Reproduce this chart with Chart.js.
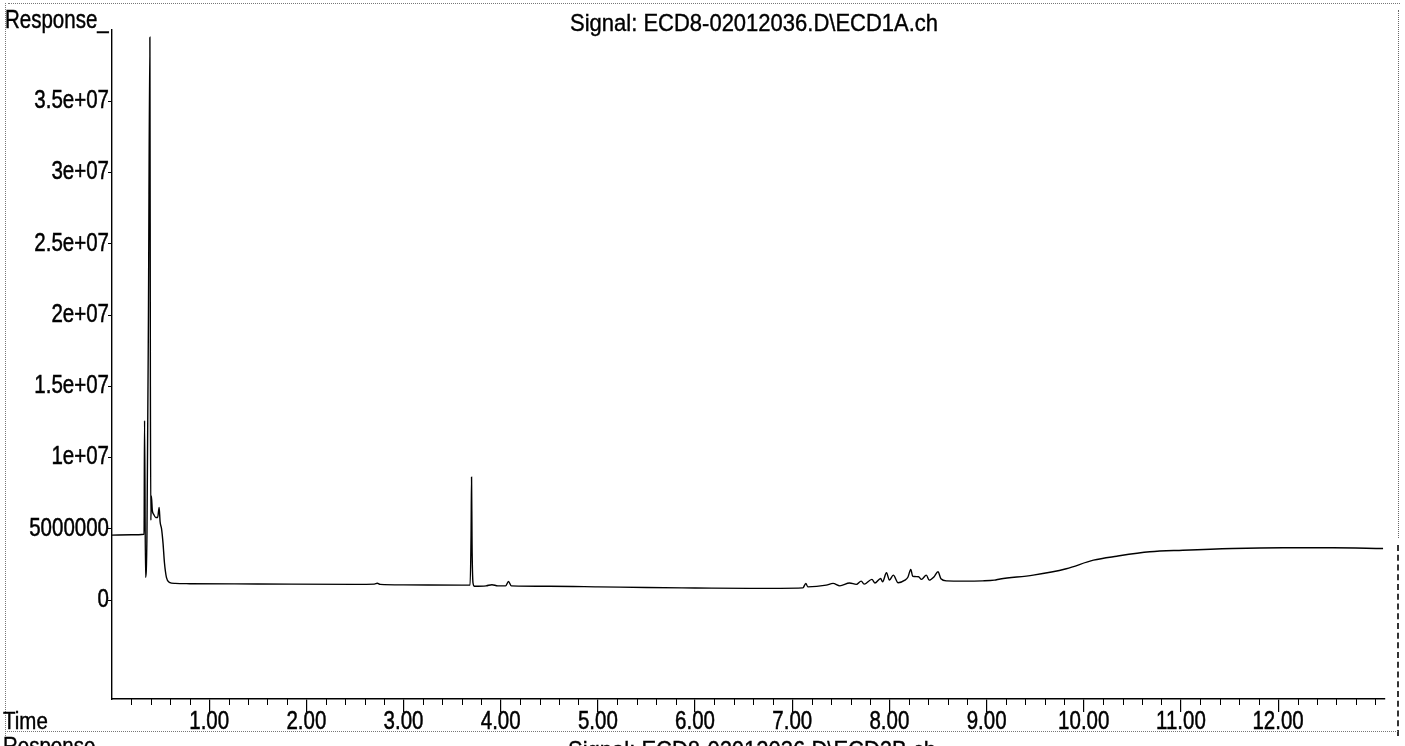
<!DOCTYPE html>
<html><head><meta charset="utf-8">
<script src="https://cdn.jsdelivr.net/npm/chart.js@4/dist/chart.umd.min.js"></script>
<style>
html,body{margin:0;padding:0;background:#fff;overflow:hidden;width:1405px;height:746px;}
#wrap{position:relative;width:1405px;height:746px;overflow:hidden;}
canvas{position:absolute;left:0;top:0;}
.t{position:absolute;font-family:"Liberation Sans",Arial,sans-serif;color:#000;white-space:nowrap;transform-origin:0 0;line-height:1;-webkit-text-stroke:0.35px #000;}
.ln{position:absolute;}
</style></head><body>
<div id="wrap">
<canvas id="c" width="1405" height="746"></canvas>
<div class="ln" style="left:8px;top:3px;width:1392px;border-top:1px dotted #777;"></div>
<div class="ln" style="left:5px;top:3px;height:743px;border-left:1px dotted #777;"></div>
<div class="ln" style="left:1398px;top:10px;height:528px;border-left:1px dotted #666;"></div>
<div class="ln" style="left:1397px;top:545px;height:191px;border-left:2px dashed #333;"></div>
<div class="ln" style="left:5px;top:731px;width:1393px;border-top:1px dotted #777;"></div>
<div class="t" style="left:5px;top:7px;font-size:20.5px;transform:scaleY(1.22)">Response_</div>
<div class="t" style="left:570px;top:11px;font-size:22px;transform:scaleY(1.12)">Signal: ECD8-02012036.D\ECD1A.ch</div>
<div class="t" style="left:3px;top:709px;font-size:20.5px;transform:scaleY(1.2)">Time</div>
<div class="t" style="left:3px;top:734px;font-size:20.5px;transform:scaleY(1.2)">Response</div>
<div class="t" style="left:568px;top:738px;font-size:22px;transform:scaleY(1.12)">Signal: ECD8-02012036.D\ECD2B.ch</div>
</div>
<script>
// Retention time (min)
const times = [0.00,0.20,0.33,0.335,0.345,0.36,0.375,0.39,0.395,0.40,0.405,0.415,0.43,0.45,0.47,0.485,0.495,0.51,0.525,0.54,0.56,0.59,0.65,0.80,1.50,2.50,2.70,2.73,2.76,3.00,3.60,3.685,3.695,3.70,3.705,3.715,3.73,3.85,3.91,3.97,4.05,4.08,4.11,4.50,5.00,5.50,6.00,6.56,7.11,7.14,7.16,7.35,7.42,7.49,7.59,7.66,7.71,7.74,7.82,7.85,7.91,7.93,7.97,8.00,8.04,8.09,8.16,8.19,8.22,8.24,8.30,8.33,8.38,8.41,8.46,8.50,8.53,8.59,8.76,8.96,9.08,9.14,9.48,9.82,10.10,10.34,10.68,11.02,11.53,12.05,12.56,13.08];
// Detector response
const responses = [4.56e6,4.58e6,4.62e6,1.26e7,1.6e6,4.8e6,2.0e7,3.95e7,1.5e7,5.6e6,7.3e6,6.3e6,6.0e6,5.8e6,5.8e6,6.5e6,5.5e6,5.0e6,4.0e6,2.6e6,1.6e6,1.25e6,1.17e6,1.15e6,1.13e6,1.10e6,1.12e6,1.18e6,1.10e6,1.07e6,1.05e6,1.05e6,4.5e6,8.63e6,4.0e6,1.2e6,0.97e6,1.0e6,1.08e6,1.0e6,1.0e6,1.3e6,1.0e6,0.97e6,0.93e6,0.88e6,0.85e6,0.82e6,0.86e6,1.17e6,0.93e6,1.05e6,1.17e6,1.0e6,1.2e6,1.1e6,1.33e6,1.12e6,1.45e6,1.2e6,1.52e6,1.28e6,1.92e6,1.4e6,1.75e6,1.22e6,1.4e6,1.6e6,2.15e6,1.67e6,1.64e6,1.45e6,1.75e6,1.4e6,1.64e6,1.99e6,1.5e6,1.35e6,1.33e6,1.35e6,1.4e6,1.48e6,1.75e6,2.2e6,2.8e6,3.08e6,3.39e6,3.5e6,3.62e6,3.67e6,3.67e6,3.62e6];
const yTickValues = [0,5e6,1e7,1.5e7,2e7,2.5e7,3e7,3.5e7];
const yTickLabels = ['0','5000000','1e+07','1.5e+07','2e+07','2.5e+07','3e+07','3.5e+07'];
const xTickValues = [1,2,3,4,5,6,7,8,9,10,11,12];
const xTickLabels = ['1.00','2.00','3.00','4.00','5.00','6.00','7.00','8.00','9.00','10.00','11.00','12.00'];
const xMinorTicks = [0.2,0.4,0.6,0.8,1.2,1.4,1.6,1.8,2.2,2.4,2.6,2.8,3.2,3.4,3.6,3.8,4.2,4.4,4.6,4.8,5.2,5.4,5.6,5.8,6.2,6.4,6.6,6.8,7.2,7.4,7.6,7.8,8.2,8.4,8.6,8.8,9.2,9.4,9.6,9.8,10.2,10.4,10.6,10.8,11.2,11.4,11.6,11.8,12.2,12.4,12.6,12.8,13.0];

const FONT = '20.5px "Liberation Sans", Arial, sans-serif';
function drawLabel(ctx, txt, x, y, sy) {
  ctx.save(); ctx.translate(x, y); ctx.scale(1, sy);
  ctx.fillText(txt, 0, 0); ctx.strokeText(txt, 0, 0); ctx.restore();
}
const labelsPlugin = {
  id: 'labelsPlugin',
  afterDraw(chart) {
    const ctx = chart.ctx, xs = chart.scales.x, ys = chart.scales.y;
    ctx.save();
    ctx.fillStyle = '#000'; ctx.strokeStyle = '#000'; ctx.lineWidth = 0.4;
    ctx.font = FONT;
    ctx.textAlign = 'center';
    ctx.textBaseline = 'top';
    xTickValues.forEach((v, i) => drawLabel(ctx, xTickLabels[i], xs.getPixelForValue(v), xs.top + 11, 1.22));
    ctx.textAlign = 'right';
    ctx.textBaseline = 'middle';
    yTickValues.forEach((v, i) => drawLabel(ctx, yTickLabels[i], ys.right - 3, ys.getPixelForValue(v), 1.22));
    ctx.lineWidth = 1;
    xMinorTicks.forEach(v => {
      const px = Math.round(xs.getPixelForValue(v)) + 0.5;
      ctx.beginPath(); ctx.moveTo(px, xs.top); ctx.lineTo(px, xs.top + 6); ctx.stroke();
    });
    ctx.restore();
  }
};

new Chart(document.getElementById('c'), {
  type: 'line',
  data: {
    datasets: [{
      data: times.map((t, i) => ({x: t, y: responses[i]})),
      borderColor: '#000',
      borderWidth: 1.4,
      pointRadius: 0,
      fill: false,
      cubicInterpolationMode: 'monotone'
    }]
  },
  options: {
    responsive: false,
    animation: false,
    devicePixelRatio: 1,
    layout: {padding: {top: 30, right: 20, left: 0, bottom: 0}},
    plugins: {legend: {display: false}, tooltip: {enabled: false}, title: {display: false}},
    scales: {
      x: {
        type: 'linear', min: 0, max: 13.1, position: 'bottom',
        border: {color: '#000', width: 1.4},
        grid: {drawOnChartArea: false, drawTicks: true, tickLength: 13, color: '#000', lineWidth: 1.2},
        ticks: {color: 'rgba(0,0,0,0)', font: {size: 20}, autoSkip: false, maxRotation: 0},
        afterBuildTicks: s => { s.ticks = xTickValues.map(v => ({value: v})); },
        afterFit: s => { s.height = 47; }
      },
      y: {
        type: 'linear', min: -6.94e6, max: 4.0e7, position: 'left',
        border: {color: '#000', width: 1.4},
        grid: {drawOnChartArea: false, drawTicks: true, tickLength: 4, color: '#000'},
        ticks: {color: 'rgba(0,0,0,0)', font: {size: 20}, autoSkip: false},
        afterBuildTicks: s => { s.ticks = yTickValues.map(v => ({value: v})); },
        afterFit: s => { s.width = 112; }
      }
    }
  },
  plugins: [labelsPlugin]
});
</script>
</body></html>
